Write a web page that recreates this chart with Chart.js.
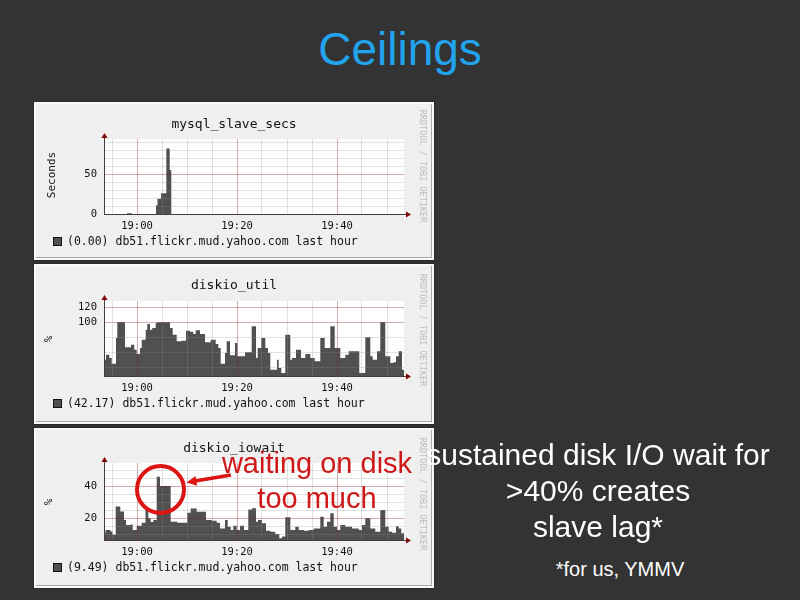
<!DOCTYPE html>
<html>
<head>
<meta charset="utf-8">
<title>Ceilings</title>
<script src="https://cdn.jsdelivr.net/npm/chart.js@4/dist/chart.umd.min.js"></script>
<style>
html, body { margin: 0; padding: 0; background: #333333; }
body { width: 800px; height: 600px; position: relative; overflow: hidden; font-family: 'Liberation Sans', Arial, sans-serif; }
#title { position: absolute; left: 0; top: 26px; width: 800px; text-align: center; font-size: 46px; line-height: 46px; color: #22a3ee; }
.panel { position: absolute; left: 34px; width: 400px; background: #efefef;
  box-shadow: inset 0 0 0 2px #f9f9f9, inset -3px -3px 0 #a8a8a8, 0 0 0 1px #2a2a2a; }
.panel canvas { position: absolute; left: 0; top: 0; }
#note { position: absolute; left: 398px; top: 436.6px; width: 400px; text-align: center; color: #fff; font-size: 30px; line-height: 36px; white-space: nowrap; z-index: 6; }
#foot { position: absolute; left: 520px; top: 557px; width: 200px; text-align: center; color: #fff; font-size: 20px; line-height: 24px; white-space: nowrap; }
#redtext { position: absolute; left: 217px; top: 445.5px; width: 200px; text-align: center; color: #d01818; font-size: 29px; line-height: 35px; white-space: nowrap; z-index: 6; }
#ann { position: absolute; left: 0; top: 0; z-index: 5; }
</style>
</head>
<body>
<div id="title">Ceilings</div>

<div class="panel" style="top:102px;height:158px"><canvas id="c1" width="400" height="158"></canvas></div>
<div class="panel" style="top:264px;height:160px"><canvas id="c2" width="400" height="160"></canvas></div>
<div class="panel" style="top:428px;height:160px"><canvas id="c3" width="400" height="160"></canvas></div>

<svg id="ann" width="800" height="600">
  <circle cx="160.5" cy="489.5" r="23.5" fill="none" stroke="#dd1414" stroke-width="4"/>
  <line x1="231" y1="475" x2="195" y2="481" stroke="#dd1414" stroke-width="3.5"/>
  <polygon points="186.5,482.5 195.5,475.9 197.2,485.8" fill="#dd1414"/>
</svg>
<div id="redtext"><div>waiting on disk</div><div>too much</div></div>
<div id="note"><div>sustained disk I/O wait for</div><div>&gt;40% creates</div><div>slave lag*</div></div>
<div id="foot">*for us, YMMV</div>

<script>
// time axis: minutes after 18:00, one hour window
const xMin = 53.4, xMax = 113.4;
const xGrid = [55, 60, 65, 70, 75, 80, 85, 90, 95, 100, 105, 110];
const xLabelAt = [60, 80, 100];
const xLabels = ['19:00', '19:20', '19:40'];

// mysql_slave_secs (step start times, values)
const slaveT = [53.4, 58.0, 59.0, 63.8, 64.1, 64.8, 65.86, 66.54, 66.86];
const slaveV = [0, 1, 0, 11, 19, 26, 82, 55, 0];
const slaveGrid = [0, 10, 20, 30, 40, 50, 60, 70, 80, 90];
const slaveLabelAt = [0, 50];
const slaveLabels = ['0', '50'];

// diskio_util
const utilT = [53.4, 53.8, 54.46, 54.94, 55.8, 56.06, 57.6, 58.8, 59.46, 59.94, 60.6, 60.94, 61.74, 62.06, 62.6, 63.06,
  63.74, 64.06, 66.6, 67.14, 67.94, 68.94, 69.8, 70.6, 71.26, 71.74, 72.6, 73.6, 74.74, 75.74, 76.26, 76.74, 77.6,
  77.94, 78.6, 79.6, 80.06, 81.6, 82.94, 83.8, 84.14, 84.86, 85.66, 86.2, 86.66, 88.0, 88.34, 88.86, 89.66, 90.66,
  91.0, 91.8, 92.8, 93.66, 94.66, 95.54, 96.66, 97.54, 98.66, 99.54, 100.66, 101.66, 102.34, 104.46, 105.66, 106.66,
  107.14, 108.0, 108.66, 109.66, 110.66, 111.34, 111.8, 112.34, 113.0];
const utilV = [50.8, 57.4, 53, 45.4, 79.7, 100.6, 67.2, 70.8, 64, 58.3, 66.3, 77.4, 90.8, 98.3, 90.8, 93,
  99.7, 100.6, 93, 84.1, 75.2, 76.1, 89.4, 88, 85, 90, 85, 73.9, 77.4, 71.7, 66.3, 45.4, 59.7,
  75.2, 56.6, 73, 55.2, 60.6, 95.2, 53, 66.3, 79.7, 66.3, 59.7, 37.4, 50.8, 39.7, 33, 84.1, 50.8,
  53, 64.1, 53, 58.3, 53, 48.6, 79.7, 66.3, 95.2, 66.3, 53, 57.4, 61.9, 33, 80.6, 55.2,
  50.8, 61.9, 100.6, 55.2, 46.3, 47.2, 55.2, 61.9, 37.4];
const utilGrid = [40, 60, 80, 100, 120];
const utilLabelAt = [100, 120];
const utilLabels = ['100', '120'];

// diskio_iowait
const iowaitT = [53.4, 53.7, 54.7, 55.1, 55.74, 56.66, 57.4, 57.8, 58.74, 59.14, 59.94, 60.94, 61.7, 62.26, 62.74,
  63.26, 63.94, 64.6, 66.74, 68.06, 70.06, 70.74, 71.94, 73.8, 74.94, 75.94, 76.6, 77.6, 78.14, 78.74, 79.26, 79.94,
  80.6, 81.4, 82.26, 83.0, 83.8, 84.2, 85.0, 85.8, 86.66, 87.66, 88.46, 89.0, 89.66, 90.66, 91.66, 92.34, 93.34,
  94.34, 95.34, 96.66, 97.34, 98.0, 98.66, 99.34, 100.0, 100.66, 101.66, 103.0, 104.34, 105.0, 105.66, 106.66,
  107.66, 108.66, 109.66, 110.34, 111.0, 111.8, 112.34, 112.86];
const iowaitV = [10.5, 12.5, 11.5, 9.5, 27.2, 24, 18.8, 15.6, 15.9, 12.5, 15.2, 17, 25, 19.8, 17.5,
  18.8, 45.8, 40, 17.7, 17, 23.3, 26, 23.9, 18.8, 18.3, 17, 13.5, 18.8, 14.6, 12.5, 15.2, 12.5,
  15.2, 12.5, 25.3, 26.1, 17.7, 18.75, 16.7, 12, 11.4, 10, 7.3, 8.5, 20.4, 12.5, 14.6, 12.5, 12.1,
  12.5, 13.5, 20.8, 14.6, 17.7, 22.9, 14.6, 12.5, 15.6, 14.6, 13.5, 12.5, 15.6, 19.8, 13.5,
  11.4, 25, 14.6, 11.4, 10.8, 14.8, 13.5, 10.4];
const iowaitGrid = [10, 15, 20, 25, 30, 35, 40, 45, 50];
const iowaitLabelAt = [20, 40];
const iowaitLabels = ['20', '40'];

const host = 'db51.flickr.mud.yahoo.com last hour';
const MONO = '"DejaVu Sans Mono", monospace';
const MINOR = 'rgba(140,140,140,0.26)';
const MAJOR = 'rgba(130,30,30,0.36)';

// rrdtool-ish decorations: canvas, title, unit label, legend, watermark, arrows
const rrdDeco = {
  id: 'rrd',
  beforeDraw(chart) {
    const a = chart.chartArea, ctx = chart.ctx;
    ctx.save();
    ctx.fillStyle = '#ffffff';
    ctx.fillRect(a.left, a.top, a.right - a.left, a.bottom - a.top);
    ctx.restore();
  },
  afterDraw(chart, args, o) {
    const a = chart.chartArea, ctx = chart.ctx;
    ctx.save();
    ctx.fillStyle = '#111';
    ctx.textBaseline = 'alphabetic';
    ctx.textAlign = 'center';
    ctx.font = '13px ' + MONO;
    ctx.fillText(o.title, 200, o.titleY);

    ctx.save();
    ctx.translate(o.unitX, o.unitY);
    ctx.rotate(-Math.PI / 2);
    ctx.textBaseline = 'middle';
    ctx.font = '11px ' + MONO;
    ctx.fillText(o.unit, 0, 0);
    ctx.restore();

    // legend
    ctx.fillStyle = '#505050';
    ctx.fillRect(19.5, 135.5, 8, 8);
    ctx.strokeStyle = '#111';
    ctx.lineWidth = 1;
    ctx.strokeRect(19.5, 135.5, 8, 8);
    ctx.fillStyle = '#111';
    ctx.textAlign = 'left';
    ctx.font = '11.5px ' + MONO;
    ctx.fillText(o.legend + ' ' + host, 33, 142.5);

    // watermark
    ctx.save();
    ctx.translate(388, o.markY);
    ctx.rotate(Math.PI / 2);
    ctx.textAlign = 'center';
    ctx.textBaseline = 'middle';
    ctx.fillStyle = '#bdbdbd';
    ctx.font = '8.5px ' + MONO;
    ctx.fillText('RRDTOOL / TOBI OETIKER', 0, 0);
    ctx.restore();

    // axis arrows
    ctx.strokeStyle = '#4a3b3b';
    ctx.beginPath();
    ctx.moveTo(a.right, a.bottom + 0.5); ctx.lineTo(a.right + 3, a.bottom + 0.5);
    ctx.moveTo(a.left + 0.5, a.top); ctx.lineTo(a.left + 0.5, a.top - 2);
    ctx.stroke();
    ctx.fillStyle = '#7f0000';
    ctx.beginPath();
    ctx.moveTo(a.right + 2, a.bottom - 2.5); ctx.lineTo(a.right + 7, a.bottom + 0.5); ctx.lineTo(a.right + 2, a.bottom + 3.5);
    ctx.closePath(); ctx.fill();
    ctx.beginPath();
    ctx.moveTo(a.left - 2.5, a.top - 1); ctx.lineTo(a.left + 0.5, a.top - 6); ctx.lineTo(a.left + 3.5, a.top - 1);
    ctx.closePath(); ctx.fill();
    ctx.restore();
  }
};

function gridColor(majors) {
  return ctx => (ctx.tick && majors.indexOf(ctx.tick.value) >= 0) ? MAJOR : MINOR;
}

function rrdGraph(id, T, V, y, deco) {
  const pts = T.map((t, i) => ({ x: t, y: V[i] }));
  pts.push({ x: xMax, y: V[V.length - 1] });
  const el = document.getElementById(id);
  return new Chart(el, {
    type: 'line',
    data: { datasets: [{ data: pts, stepped: 'before', fill: 'start', backgroundColor: '#505050',
      borderWidth: 0, pointRadius: 0 }] },
    options: {
      responsive: false,
      animation: false,
      events: [],
      layout: { padding: { top: deco.areaTop, right: 30, left: 0, bottom: 0 } },
      plugins: { legend: { display: false }, tooltip: { enabled: false }, rrd: deco },
      scales: {
        x: {
          type: 'linear', min: xMin, max: xMax,
          afterBuildTicks: s => { s.ticks = xGrid.map(v => ({ value: v })); },
          afterFit: s => { s.height = el.height - 112; },
          grid: { color: gridColor(xLabelAt), drawTicks: false, z: 1 },
          border: { color: '#4a3b3b', z: 2 },
          ticks: { padding: 6, autoSkip: false, maxRotation: 0, color: '#111', font: { family: MONO, size: 10.5 },
            callback: v => { const i = xLabelAt.indexOf(v); return i >= 0 ? xLabels[i] : ''; } }
        },
        y: {
          min: y.min, max: y.max,
          afterBuildTicks: s => { s.ticks = y.grid.map(v => ({ value: v })); },
          afterFit: s => { s.width = 70; },
          grid: { color: gridColor(y.labelAt), drawTicks: false, z: 1 },
          border: { color: '#4a3b3b', z: 2 },
          ticks: { padding: 7, autoSkip: false, color: '#111', font: { family: MONO, size: 10.5 },
            callback: v => { const i = y.labelAt.indexOf(v); return i >= 0 ? y.labels[i] : ''; } }
        }
      }
    },
    plugins: [rrdDeco]
  });
}

rrdGraph('c1', slaveT, slaveV,
  { min: 0, max: 94, grid: slaveGrid, labelAt: slaveLabelAt, labels: slaveLabels },
  { areaTop: 37, title: 'mysql_slave_secs', titleY: 25.5, unit: 'Seconds', unitX: 18, unitY: 73, legend: '(0.00)', markY: 64 });

rrdGraph('c2', utilT, utilV,
  { min: 29, max: 129, grid: utilGrid, labelAt: utilLabelAt, labels: utilLabels },
  { areaTop: 37, title: 'diskio_util', titleY: 25, unit: '%', unitX: 15, unitY: 75, legend: '(42.17)', markY: 66 });

rrdGraph('c3', iowaitT, iowaitV,
  { min: 6.25, max: 54.4, grid: iowaitGrid, labelAt: iowaitLabelAt, labels: iowaitLabels },
  { areaTop: 35, title: 'diskio_iowait', titleY: 24, unit: '%', unitX: 15, unitY: 74, legend: '(9.49)', markY: 66 });
</script>
</body>
</html>
